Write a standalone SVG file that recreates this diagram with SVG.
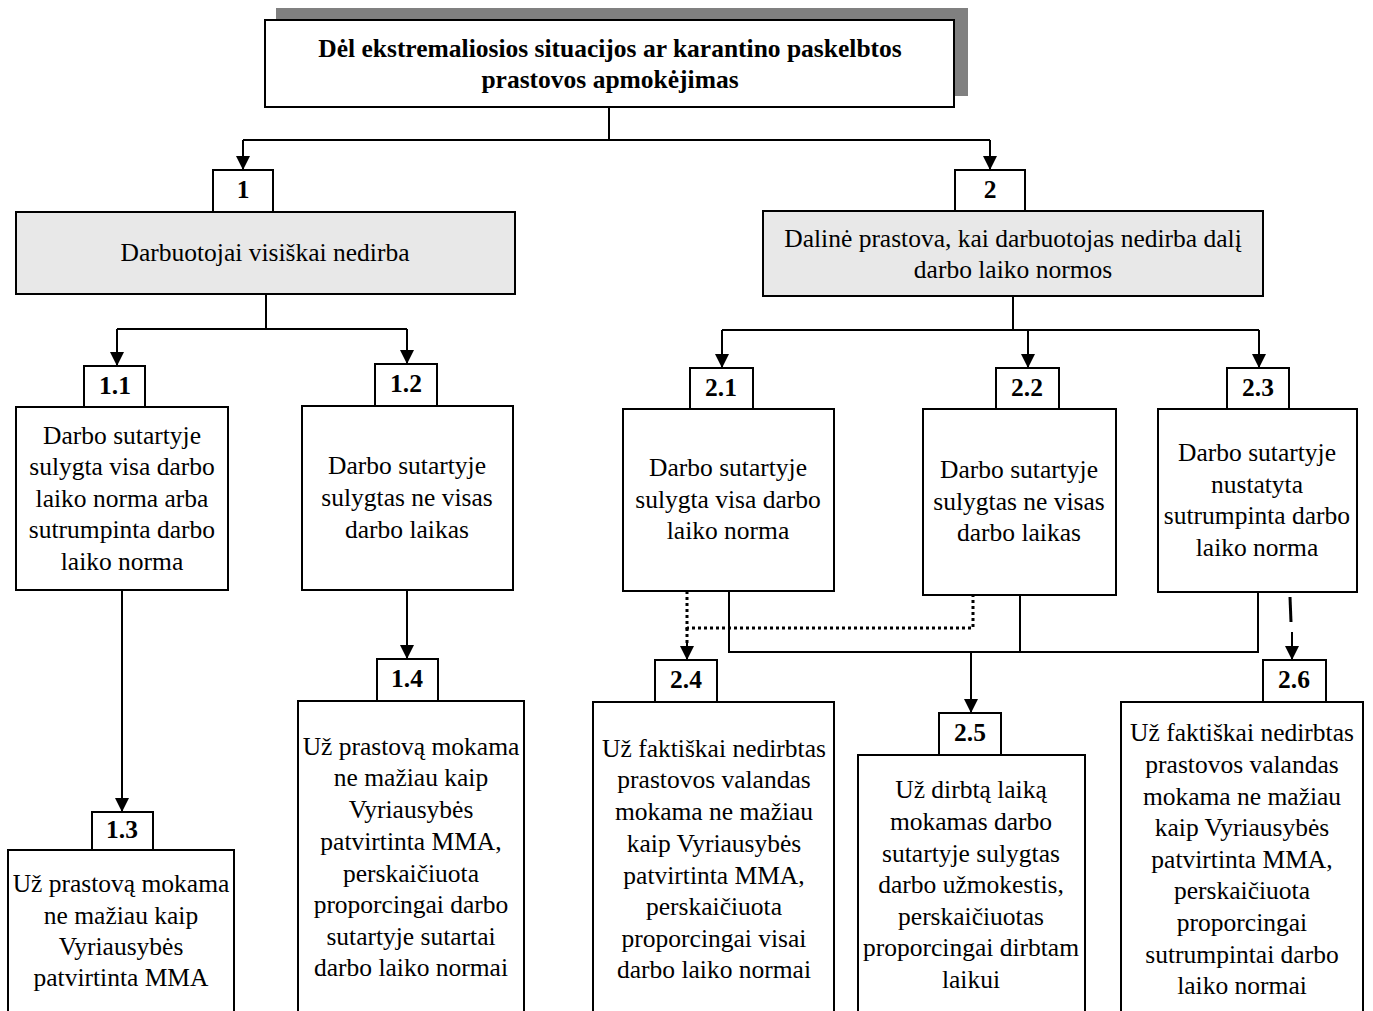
<svg xmlns="http://www.w3.org/2000/svg" width="1373" height="1011" viewBox="0 0 1373 1011">
<style>
.box{fill:#fff;stroke:#000;stroke-width:2}
.gray{fill:#e8e8e8;stroke:#000;stroke-width:2}
text{font-family:'Liberation Serif','DejaVu Serif',serif;font-size:25.5px;text-anchor:middle;fill:#000}
.b{font-weight:bold}
.c{fill:none;stroke:#000;stroke-width:2}
.d{fill:none;stroke:#000;stroke-width:3;stroke-dasharray:3 3}
</style>
<defs>
<marker id="ah" viewBox="0 0 10 10" refX="10" refY="5" markerWidth="16" markerHeight="14" markerUnits="userSpaceOnUse" orient="auto">
<path d="M0,0 L10,5 L0,10 z" fill="#000"/>
</marker>
</defs>
<rect width="1373" height="1011" fill="#fff"/>
<g id="connectors">
<path class="c" d="M609,107 V140 M243,140 H990"/>
<path class="c" d="M243,140 V170" marker-end="url(#ah)"/>
<path class="c" d="M990,140 V170" marker-end="url(#ah)"/>
<path class="c" d="M266,294 V329 M117,329 H407"/>
<path class="c" d="M117,329 V366" marker-end="url(#ah)"/>
<path class="c" d="M407,329 V364" marker-end="url(#ah)"/>
<path class="c" d="M1013,296 V330 M722,330 H1259"/>
<path class="c" d="M722,330 V368" marker-end="url(#ah)"/>
<path class="c" d="M1028,330 V368" marker-end="url(#ah)"/>
<path class="c" d="M1259,330 V368" marker-end="url(#ah)"/>
<path class="c" d="M122,590 V812" marker-end="url(#ah)"/>
<path class="c" d="M407,590 V659" marker-end="url(#ah)"/>
<path class="d" d="M687,591 V628 H973 V595"/>
<path class="d" d="M687,628 V643"/>
<path class="c" d="M687,640 V660" marker-end="url(#ah)"/>
<path class="c" d="M729,591 V652 H1258 V592 M1020,595 V652"/>
<path class="c" d="M971,652 V713" marker-end="url(#ah)"/>
<path class="c" style="stroke-width:3" d="M1290,597 L1291,622"/>
<path class="c" d="M1292,632 V660" marker-end="url(#ah)"/>
</g>
<g id="title">
<rect x="276" y="8" width="692" height="88" fill="#808080"/>
<rect class="box" x="265" y="20" width="689" height="87"/>
<text class="b" x="610" y="57">Dėl ekstremaliosios situacijos ar karantino paskelbtos</text>
<text class="b" x="610" y="88">prastovos apmokėjimas</text>
</g>
<g id="n1">
<rect class="box" x="213" y="170" width="60" height="42"/>
<text class="b" x="243" y="198">1</text>
<rect class="gray" x="16" y="212" width="499" height="82"/>
<text x="265" y="261">Darbuotojai visiškai nedirba</text>
</g>
<g id="n2">
<rect class="box" x="955" y="170" width="70" height="41"/>
<text class="b" x="990" y="198">2</text>
<rect class="gray" x="763" y="211" width="500" height="85"/>
<text x="1013" y="247">Dalinė prastova, kai darbuotojas nedirba dalį</text>
<text x="1013" y="278">darbo laiko normos</text>
</g>
<g id="n11">
<rect class="box" x="84" y="366" width="61" height="41"/>
<text class="b" x="115" y="394">1.1</text>
<rect class="box" x="16" y="407" width="212" height="183"/>
<text x="122" y="444">Darbo sutartyje</text>
<text x="122" y="475">sulygta visa darbo</text>
<text x="122" y="507">laiko norma arba</text>
<text x="122" y="538">sutrumpinta darbo</text>
<text x="122" y="570">laiko norma</text>
</g>
<g id="n12">
<rect class="box" x="375" y="364" width="62" height="42"/>
<text class="b" x="406" y="392">1.2</text>
<rect class="box" x="302" y="406" width="211" height="184"/>
<text x="407" y="474">Darbo sutartyje</text>
<text x="407" y="506">sulygtas ne visas</text>
<text x="407" y="538">darbo laikas</text>
</g>
<g id="n21">
<rect class="box" x="690" y="368" width="63" height="41"/>
<text class="b" x="721" y="396">2.1</text>
<rect class="box" x="623" y="409" width="211" height="182"/>
<text x="728" y="476">Darbo sutartyje</text>
<text x="728" y="508">sulygta visa darbo</text>
<text x="728" y="539">laiko norma</text>
</g>
<g id="n22">
<rect class="box" x="996" y="368" width="63" height="41"/>
<text class="b" x="1027" y="396">2.2</text>
<rect class="box" x="923" y="409" width="193" height="186"/>
<text x="1019" y="478">Darbo sutartyje</text>
<text x="1019" y="510">sulygtas ne visas</text>
<text x="1019" y="541">darbo laikas</text>
</g>
<g id="n23">
<rect class="box" x="1227" y="368" width="62" height="41"/>
<text class="b" x="1258" y="396">2.3</text>
<rect class="box" x="1158" y="409" width="199" height="183"/>
<text x="1257" y="461">Darbo sutartyje</text>
<text x="1257" y="493">nustatyta</text>
<text x="1257" y="524">sutrumpinta darbo</text>
<text x="1257" y="556">laiko norma</text>
</g>
<g id="n13">
<rect class="box" x="92" y="812" width="61" height="38"/>
<text class="b" x="122" y="838">1.3</text>
<rect class="box" x="8" y="850" width="226" height="170"/>
<text x="121" y="892">Už prastovą mokama</text>
<text x="121" y="924">ne mažiau kaip</text>
<text x="121" y="955">Vyriausybės</text>
<text x="121" y="986">patvirtinta MMA</text>
</g>
<g id="n14">
<rect class="box" x="377" y="659" width="61" height="42"/>
<text class="b" x="407" y="687">1.4</text>
<rect class="box" x="298" y="701" width="226" height="320"/>
<text x="411" y="755">Už prastovą mokama</text>
<text x="411" y="786">ne mažiau kaip</text>
<text x="411" y="818">Vyriausybės</text>
<text x="411" y="850">patvirtinta MMA,</text>
<text x="411" y="882">perskaičiuota</text>
<text x="411" y="913">proporcingai darbo</text>
<text x="411" y="945">sutartyje sutartai</text>
<text x="411" y="976">darbo laiko normai</text>
</g>
<g id="n24">
<rect class="box" x="655" y="660" width="62" height="42"/>
<text class="b" x="686" y="688">2.4</text>
<rect class="box" x="593" y="702" width="241" height="320"/>
<text x="714" y="757">Už faktiškai nedirbtas</text>
<text x="714" y="788">prastovos valandas</text>
<text x="714" y="820">mokama ne mažiau</text>
<text x="714" y="852">kaip Vyriausybės</text>
<text x="714" y="884">patvirtinta MMA,</text>
<text x="714" y="915">perskaičiuota</text>
<text x="714" y="947">proporcingai visai</text>
<text x="714" y="978">darbo laiko normai</text>
</g>
<g id="n25">
<rect class="box" x="939" y="713" width="62" height="42"/>
<text class="b" x="970" y="741">2.5</text>
<rect class="box" x="858" y="755" width="227" height="270"/>
<text x="971" y="798">Už dirbtą laiką</text>
<text x="971" y="830">mokamas darbo</text>
<text x="971" y="862">sutartyje sulygtas</text>
<text x="971" y="893">darbo užmokestis,</text>
<text x="971" y="925">perskaičiuotas</text>
<text x="971" y="956">proporcingai dirbtam</text>
<text x="971" y="988">laikui</text>
</g>
<g id="n26">
<rect class="box" x="1263" y="660" width="63" height="42"/>
<text class="b" x="1294" y="688">2.6</text>
<rect class="box" x="1121" y="702" width="242" height="320"/>
<text x="1242" y="741">Už faktiškai nedirbtas</text>
<text x="1242" y="773">prastovos valandas</text>
<text x="1242" y="805">mokama ne mažiau</text>
<text x="1242" y="836">kaip Vyriausybės</text>
<text x="1242" y="868">patvirtinta MMA,</text>
<text x="1242" y="899">perskaičiuota</text>
<text x="1242" y="931">proporcingai</text>
<text x="1242" y="963">sutrumpintai darbo</text>
<text x="1242" y="994">laiko normai</text>
</g>
</svg>
